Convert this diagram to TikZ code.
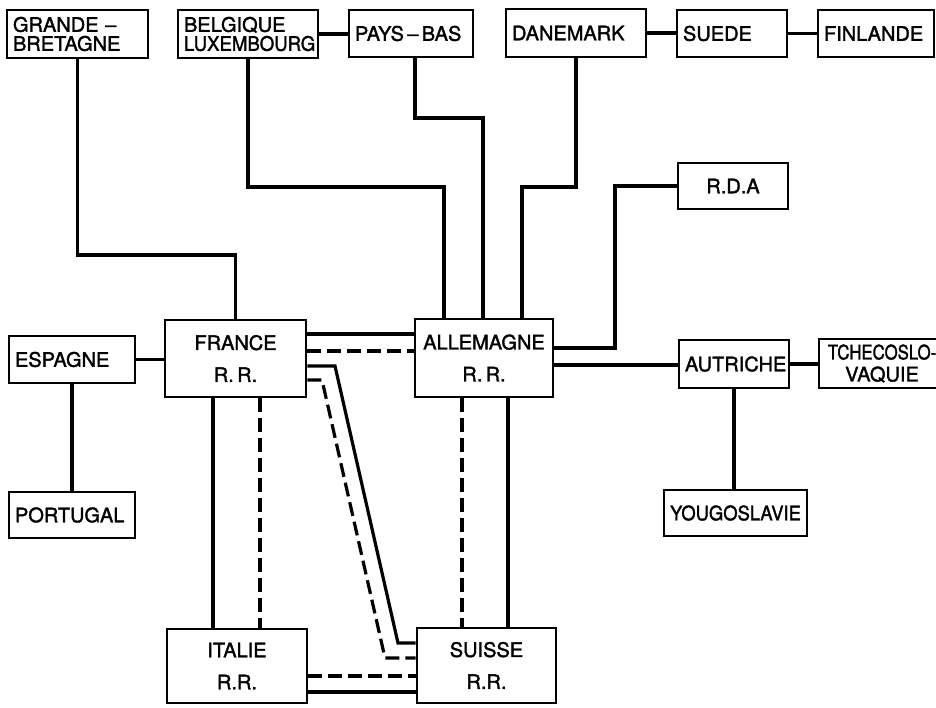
\documentclass[tikz,border=0pt]{standalone}
\usepackage{fontspec}
\setmainfont{TeX Gyre Heros}
\newfontfamily\lblfont{TeX Gyre Heros}[FakeBold=1.6,Ligatures=TeX]
\usepackage{graphicx}
\begin{document}
\begin{tikzpicture}[x=1pt,y=-1pt,
  box/.style={draw, line width=2.6pt, inner xsep=6pt, inner ysep=0pt, font=\lblfont\fontsize{20}{19}\selectfont},
  bigbox/.style={box, align=center, font=\lblfont\fontsize{20}{32}\selectfont},
  link/.style={line width=3.2pt, line join=miter},
  dlink/.style={link, dash pattern=on 14pt off 6pt}]
\useasboundingbox (0,0) rectangle (936,708);
\fill[white] (0,0) rectangle (936,708);
\clip (0,0) rectangle (936,708);

% top row
\node[box, text width=129pt, align=left, minimum height=48pt] (GB) at (77.5,34) {GRANDE –\\BRETAGNE};
\node[box, text width=128pt, align=left, minimum height=48pt] (BL) at (248,34) {BELGIQUE\\\scalebox{0.93}[1]{LUXEMBOURG}};
\node[box, text width=112pt, align=left, minimum height=47pt] (PB) at (411,33.5) {PAYS\,–\,BAS};
\node[box, text width=128pt, align=left, minimum height=48pt] (DK) at (576,33) {DANEMARK};
\node[box, text width=98pt, align=left, minimum height=47pt] (SU) at (732,33.5) {SUEDE};
\node[box, text width=104pt, align=left, minimum height=47pt] (FI) at (876,33.5) {FINLANDE};
\node[box, text width=98pt, align=center, minimum height=46pt] (RDA) at (733,186) {R.D.A};

% left
\node[box, text width=114pt, align=left, minimum height=47pt] (ES) at (72,359.5) {ESPAGNE};
\node[box, text width=114pt, align=left, minimum height=46pt] (PT) at (72,515) {PORTUGAL};

% centre
\node[bigbox, text width=129pt, minimum height=77pt] (FR) at (235.5,358.5) {FRANCE\\R.\,R.};
\node[bigbox, text width=126pt, minimum height=78pt] (AL) at (484,358) {ALLEMAGNE\\R.\,R.};
\node[bigbox, text width=128pt, minimum height=74pt] (IT) at (237,666) {ITALIE\\R.R.};
\node[bigbox, text width=127pt, minimum height=75pt] (SW) at (486.5,665.5) {SUISSE\\R.R.};

% right
\node[box, text width=98pt, align=center, minimum height=48pt] (AU) at (734,364) {AUTRICHE};
\node[box, text width=114pt, align=center, minimum height=49pt, font=\lblfont\fontsize{20}{22}\selectfont] (TC) at (882,363.5) {\scalebox{0.84}[1]{TCHECOSLO-}\\VAQUIE};
\node[box, text width=131pt, align=center, minimum height=46pt] (YU) at (735.5,513) {\scalebox{0.92}[1]{YOUGOSLAVIE}};

% connectors to the north
\draw[link] (GB.south) -- (GB.south |- 0,255) -| (FR.north);
\draw[link] (BL.south) |- (444,187) -- (444,0 |- AL.north);
\draw[link] (415,0 |- PB.south) |- (483,118) -- (483,0 |- AL.north);
\draw[link] (DK.south) |- (522,187) -- (522,0 |- AL.north);
\draw[link] (BL.east) -- (BL.east -| PB.west);
\draw[link] (DK.east) -- (DK.east -| SU.west);
\draw[link] (SU.east) -- (SU.east -| FI.west);

% east
\draw[link] (AL.east |- 0,348) -| (615,0 |- RDA.west) -- (RDA.west);
\draw[link] (AL.east |- 0,365) -- (AU.west |- 0,365);
\draw[link] (AU.east) -- (AU.east -| TC.west);
\draw[link] (AU.south) -- (AU.south |- YU.north);

% west
\draw[link] (ES.east) -- (ES.east -| FR.west);
\draw[link] (ES.south) -- (ES.south |- PT.north);

% France - Allemagne
\draw[link] (FR.east |- 0,334) -- (AL.west |- 0,334);
\draw[dlink] (FR.east |- 0,351) -- (AL.west |- 0,351);

% France - Suisse
\draw[link] (FR.east |- 0,366) -- (335,366) -- (398,643) -- (SW.west |- 0,643);
\draw[dlink] (FR.east |- 0,380) -- (322,380) -- (385,658) -- (SW.west |- 0,658);

% France - Italie
\draw[link] (213,0 |- FR.south) -- (213,0 |- IT.north);
\draw[dlink] (260,0 |- FR.south) -- (260,0 |- IT.north);

% Allemagne - Suisse
\draw[dlink] (462,0 |- AL.south) -- (462,0 |- SW.north);
\draw[link] (508,0 |- AL.south) -- (508,0 |- SW.north);

% Italie - Suisse
\draw[dlink] (IT.east |- 0,676) -- (SW.west |- 0,676);
\draw[link] (IT.east |- 0,692) -- (SW.west |- 0,692);
\end{tikzpicture}
\end{document}
